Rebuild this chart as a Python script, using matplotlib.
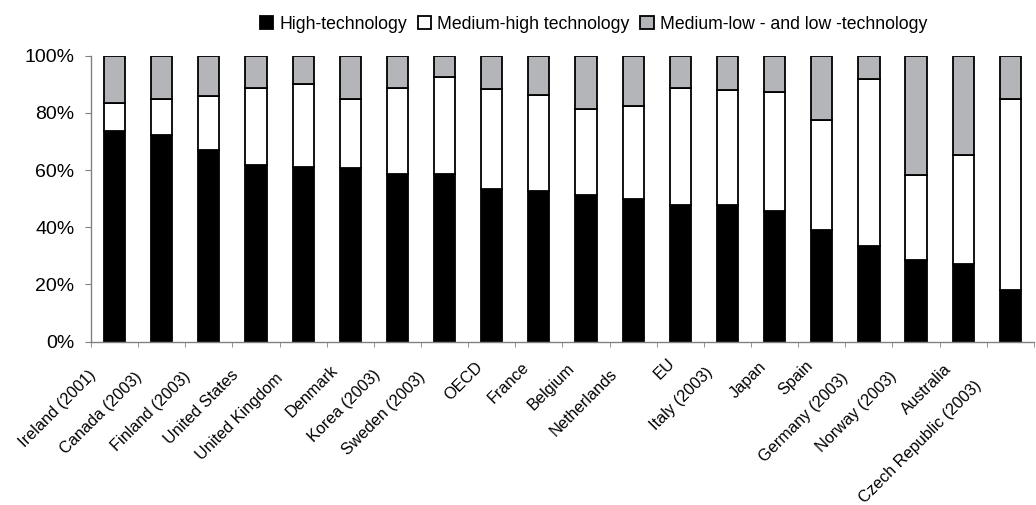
import matplotlib
matplotlib.use("Agg")
import matplotlib.pyplot as plt
import numpy as np
from matplotlib.transforms import ScaledTranslation
from matplotlib.ticker import PercentFormatter

plt.rcParams['font.family'] = ['Liberation Sans', 'DejaVu Sans']

countries = ["Ireland (2001)", "Canada (2003)", "Finland (2003)", "United States",
             "United Kingdom", "Denmark", "Korea (2003)", "Sweden (2003)", "OECD",
             "France", "Belgium", "Netherlands", "EU", "Italy (2003)", "Japan",
             "Spain", "Germany (2003)", "Norway (2003)", "Australia",
             "Czech Republic (2003)"]

high_tech = [73.8, 72.4, 66.9, 61.9, 61.2, 60.7, 58.6, 58.7, 53.3, 52.6,
             51.3, 50.0, 47.7, 47.7, 45.8, 39.1, 33.4, 28.5, 27.3, 18.2]
medium_high = [9.6, 12.6, 18.9, 26.9, 28.9, 24.3, 30.2, 33.7, 34.9, 33.7,
               30.1, 32.5, 41.0, 40.3, 41.6, 38.4, 58.5, 29.9, 38.0, 66.8]
medium_low = [100 - a - b for a, b in zip(high_tech, medium_high)]

series_names = ["High-technology", "Medium-high technology",
                "Medium-low - and low -technology"]
series_colors = ["#000000", "#ffffff", "#b4b5b9"]

DPI = 100
fig = plt.figure(figsize=(10.36, 5.05), dpi=DPI)
ax = fig.add_axes([0.0878, 0.3234, 0.9102, 0.5663])

x = np.arange(len(countries))
bottom = np.zeros(len(countries))
handles = []
for vals, name, col in zip([high_tech, medium_high, medium_low], series_names, series_colors):
    bars = ax.bar(x, vals, width=0.45, bottom=bottom, color=col,
                  edgecolor="black", linewidth=1.3, label=name)
    handles.append(bars)
    bottom += np.array(vals)

ax.set_xlim(-0.5, len(countries) - 0.5)
ax.set_ylim(0, 100)
ax.set_yticks([0, 20, 40, 60, 80, 100])
ax.yaxis.set_major_formatter(PercentFormatter(decimals=0))

for side in ("top", "right"):
    ax.spines[side].set_visible(False)
for side in ("left", "bottom"):
    ax.spines[side].set_color("#808080")
    ax.spines[side].set_linewidth(1.0)

ax.tick_params(axis="y", direction="out", length=4.3, color="#808080",
               labelsize=14, pad=7.5)

# category boundaries carry the tick marks; labels sit at the centres
ax.set_xticks(np.arange(len(countries) + 1) - 0.5, minor=True)
ax.tick_params(axis="x", which="minor", direction="out", length=3.6, color="#808080")
ax.set_xticks(x)
ax.set_xticklabels(countries, rotation=45, ha="right", va="center",
                   rotation_mode="anchor", fontsize=11.7)
ax.tick_params(axis="x", which="major", length=0, pad=0)

# slanted labels: each one slides down-left along its own direction
# in proportion to its length
fig.canvas.draw()
renderer = fig.canvas.get_renderer()
for lbl in ax.get_xticklabels():
    w, h, d = renderer.get_text_width_height_descent(
        lbl.get_text(), lbl.get_fontproperties(), ismath=False)
    shift = 0.23 * w * np.sqrt(0.5)
    dx = -4 - shift
    dy = -(15.0 + shift)
    lbl.set_transform(lbl.get_transform() +
                      ScaledTranslation(dx / DPI, dy / DPI, fig.dpi_scale_trans))

fig.legend(handles=handles, labels=series_names, loc="center",
           bbox_to_anchor=(0.573, 0.952), ncol=3, frameon=False,
           fontsize=12.7, handlelength=0.75, handleheight=0.75,
           handletextpad=0.35, columnspacing=0.6)

fig.savefig("out.png", dpi=DPI)
